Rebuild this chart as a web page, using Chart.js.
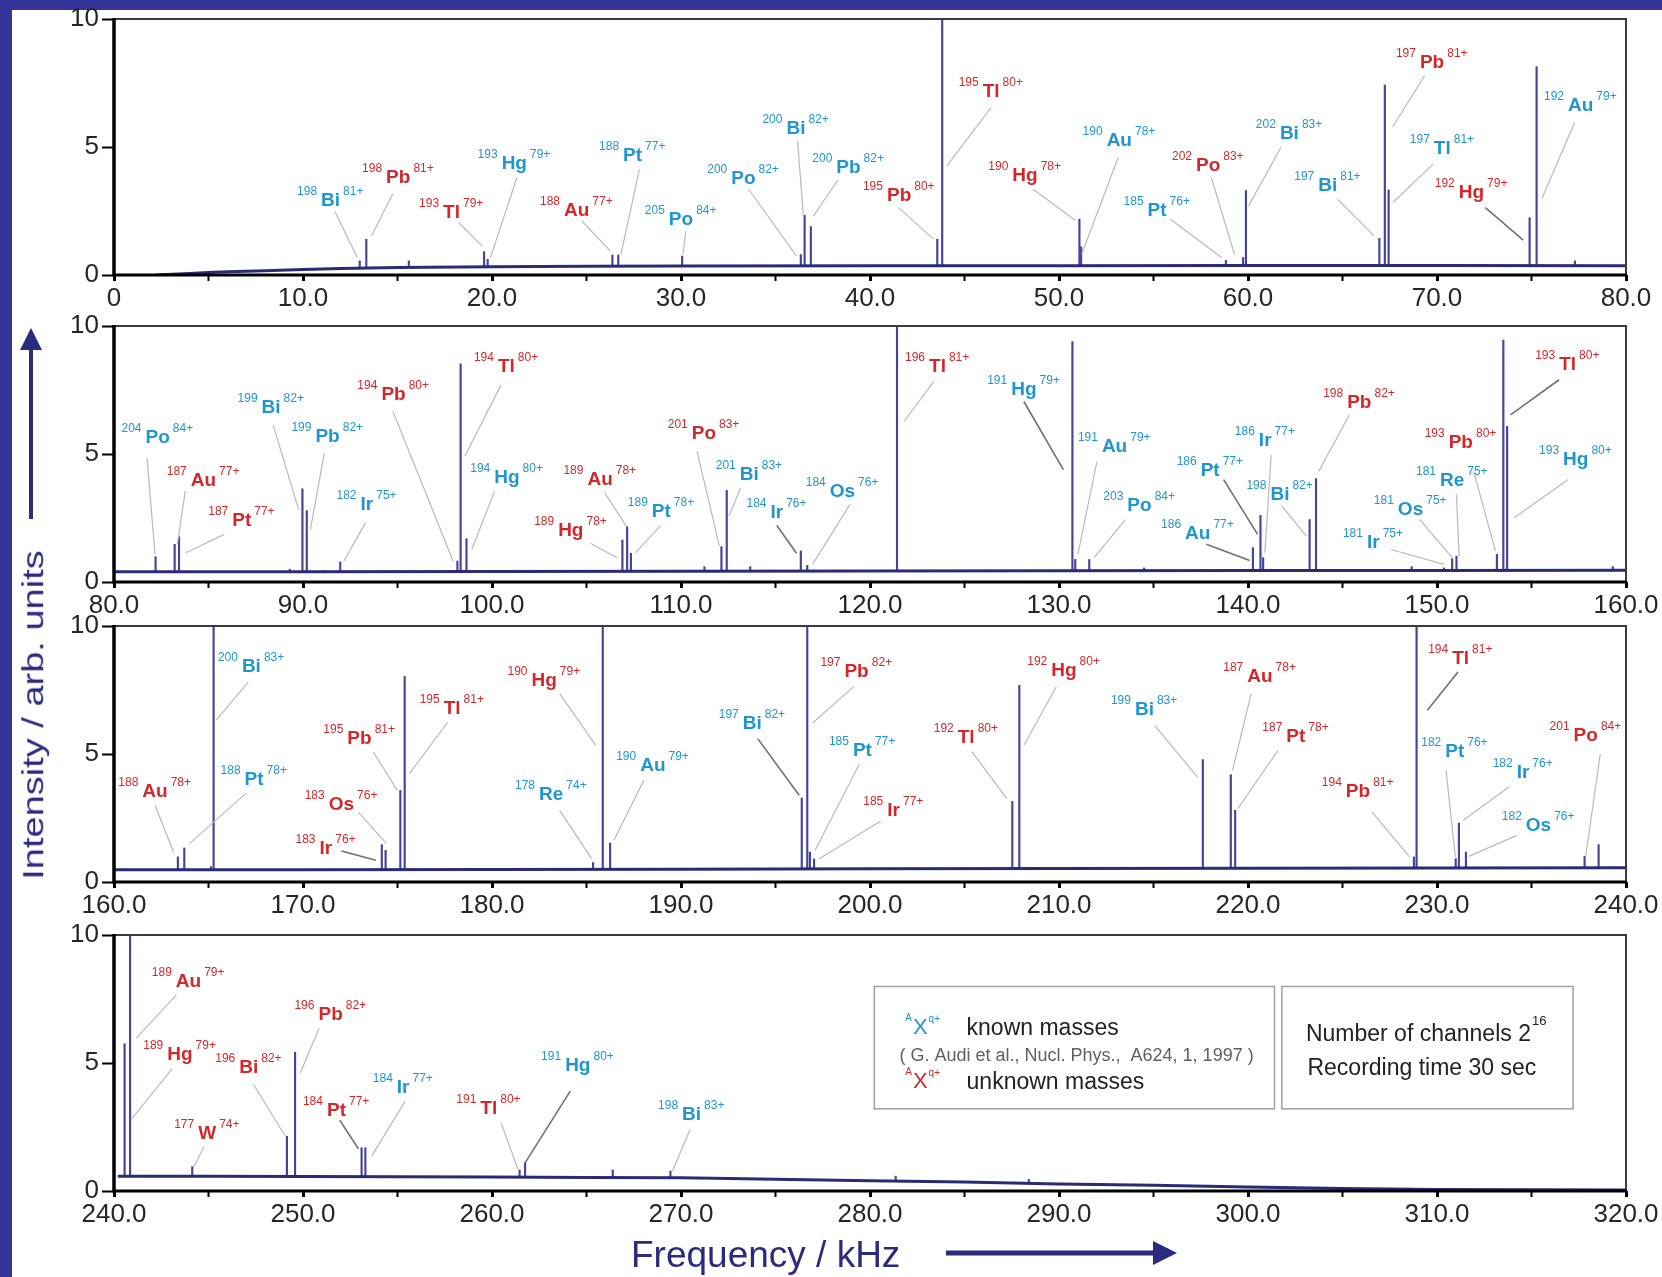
<!DOCTYPE html>
<html lang="en">
<head>
<meta charset="utf-8">
<title>Frequency spectrum</title>
<script src="https://cdn.jsdelivr.net/npm/chart.js@4.4.1/dist/chart.umd.min.js"></script>
<style>
  html, body { margin: 0; padding: 0; }
  body { width: 1662px; height: 1277px; position: relative; overflow: hidden; background: #34349a; font-family: "Liberation Sans", Arial, sans-serif; }
  #sheet { position: absolute; left: 12px; top: 10px; width: 1650px; height: 1267px; background: #fff; }
  .panel { position: absolute; left: 0; }
  #y-title { position: absolute; left: 33px; top: 715px; font-size: 38px; line-height: 38px; color: #2b2a7e; white-space: nowrap; transform: translate(-50%, -50%) rotate(-90deg) scaleY(0.8); }
  #x-title { position: absolute; left: 631px; top: 1236px; font-size: 37px; line-height: 37px; color: #2b2a7e; white-space: nowrap; }
  #arrows { position: absolute; left: 0; top: 0; }
</style>
</head>
<body>
<div id="sheet"></div>
<canvas id="panel-1" class="panel" width="1662" height="322"></canvas>
<canvas id="panel-2" class="panel" width="1662" height="322"></canvas>
<canvas id="panel-3" class="panel" width="1662" height="322"></canvas>
<canvas id="panel-4" class="panel" width="1662" height="322"></canvas>
<div id="y-title">Intensity / arb. units</div>
<div id="x-title">Frequency / kHz</div>
<svg id="arrows" width="1662" height="1277">
  <line x1="31" y1="519" x2="31" y2="346" stroke="#2b2a7e" stroke-width="4"/>
  <polygon points="31,328 20,350 42,350" fill="#2b2a7e"/>
  <line x1="946" y1="1253" x2="1156" y2="1253" stroke="#2b2a7e" stroke-width="5"/>
  <polygon points="1177,1253 1153,1241 1153,1265" fill="#2b2a7e"/>
</svg>
<script>
const FONT = '"Liberation Sans", Arial, Helvetica, sans-serif'

const COLORS = {
  known: '#1f96cf',
  unknown: '#d3272b',
  spike: '#45449c',
  trace: '#2b2a74',
  leader: '#bababa',
  leaderDark: '#707070',
  tick: '#262626',
  frame: '#3c3c3c',
  box: '#a0a0a0',
  note: '#222222',
  cite: '#606060'
}

// ---- panel 1: 0 - 80 kHz ----
const freq1 = [13.0, 13.35, 15.6, 19.58, 19.77, 26.37, 26.68, 30.06, 36.34, 36.54, 36.87, 43.56, 43.82, 51.08, 51.17, 58.83, 59.74, 59.89, 66.95, 67.24, 67.44, 74.9, 75.27, 77.3]
const height1 = [0.55, 1.4, 0.55, 0.91, 0.61, 0.78, 0.78, 0.74, 0.8, 2.33, 1.89, 1.4, 10, 2.18, 1.1, 0.57, 0.68, 3.3, 1.43, 7.42, 3.32, 2.24, 8.14, 0.55]
const traceFreq1 = [2.2, 4, 5, 6, 8, 10, 12, 15, 20, 25, 30, 40, 50, 60, 70, 80]
const traceLevel1 = [0, 0.06, 0.1, 0.13, 0.17, 0.21, 0.25, 0.29, 0.32, 0.34, 0.35, 0.36, 0.36, 0.37, 0.37, 0.36]
const ions1 = [
  ['198','Bi','81+',1], ['198','Pb','81+',0], ['193','Tl','79+',0], ['193','Hg','79+',1],
  ['188','Au','77+',0], ['188','Pt','77+',1], ['205','Po','84+',1], ['200','Po','82+',1],
  ['200','Bi','82+',1], ['200','Pb','82+',1], ['195','Pb','80+',0], ['195','Tl','80+',0],
  ['190','Hg','78+',0], ['190','Au','78+',1], ['185','Pt','76+',1], ['202','Po','83+',0],
  ['202','Bi','83+',1], ['197','Bi','81+',1], ['197','Pb','81+',0], ['197','Tl','81+',1],
  ['192','Hg','79+',0], ['192','Au','79+',1]
]
// label centre x, y, then leader start x, y and end x, y (axis units); trailing 1 = darker leader
const spots1 = [
  [11.46, 2.96, 11.69, 2.48, 12.87, 0.68], [15.04, 3.87, 14.76, 3.18, 13.63, 1.53],
  [17.86, 2.48, 18.23, 2.05, 19.49, 1.13], [21.18, 4.42, 21.32, 3.81, 19.92, 0.68],
  [24.48, 2.57, 24.76, 2.11, 26.25, 0.94], [27.44, 4.72, 27.8, 4.13, 26.82, 0.81],
  [30.0, 2.22, 30.25, 1.72, 30.11, 0.81], [33.3, 3.83, 33.58, 3.35, 36.11, 0.74],
  [36.08, 5.76, 36.17, 5.24, 36.48, 2.24], [38.86, 4.26, 38.3, 3.7, 37.0, 2.3],
  [41.54, 3.16, 41.51, 2.63, 43.36, 1.4], [46.41, 7.2, 46.41, 6.55, 44.07, 4.26],
  [48.2, 3.94, 48.63, 3.35, 50.85, 2.14], [53.19, 5.31, 53.13, 4.59, 51.2, 0.81],
  [55.19, 2.57, 55.9, 2.18, 58.6, 0.68], [57.89, 4.33, 58.06, 3.81, 59.28, 0.81],
  [62.19, 5.57, 61.74, 4.98, 60.03, 2.7], [64.22, 3.55, 64.73, 2.96, 66.67, 1.53],
  [69.74, 8.37, 69.34, 7.78, 67.66, 5.79], [70.28, 5.0, 69.8, 4.33, 67.66, 2.83],
  [71.82, 3.29, 72.56, 2.63, 74.56, 1.36, 1], [77.6, 6.68, 77.28, 5.96, 75.57, 3.02]
]

// ---- panel 2: 80 - 160 kHz ----
const freq2 = [82.2, 83.21, 83.44, 89.3, 89.97, 90.2, 91.1, 91.97, 98.17, 98.34, 98.65, 106.9, 107.15, 107.35, 111.24, 112.14, 112.42, 113.66, 116.34, 116.68, 121.43, 130.71, 130.86, 131.6, 134.5, 140.26, 140.66, 140.8, 143.26, 143.6, 148.66, 150.37, 150.8, 151.03, 153.17, 153.51, 153.71, 159.3]
const height2 = [0.99, 1.47, 1.77, 0.5, 3.64, 2.79, 0.45, 0.78, 0.82, 8.52, 1.69, 1.64, 2.16, 1.12, 0.6, 1.38, 3.58, 0.6, 1.21, 0.65, 10, 9.39, 0.88, 0.88, 0.55, 1.34, 2.6, 0.95, 2.44, 4.04, 0.6, 0.55, 0.91, 1.01, 1.08, 9.45, 6.08, 0.6]
const traceFreq2 = [80, 90, 100, 110, 120, 130, 140, 150, 160]
const traceLevel2 = [0.4, 0.4, 0.41, 0.42, 0.43, 0.44, 0.45, 0.45, 0.46]
const ions2 = [
  ['204','Po','84+',1], ['187','Au','77+',0], ['187','Pt','77+',0], ['199','Bi','82+',1],
  ['199','Pb','82+',1], ['182','Ir','75+',1], ['194','Pb','80+',0], ['194','Tl','80+',0],
  ['194','Hg','80+',1], ['189','Au','78+',0], ['189','Hg','78+',0], ['189','Pt','78+',1],
  ['201','Po','83+',0], ['201','Bi','83+',1], ['184','Ir','76+',1], ['184','Os','76+',1],
  ['196','Tl','81+',0], ['191','Hg','79+',1], ['191','Au','79+',1], ['203','Po','84+',1],
  ['186','Au','77+',1], ['186','Pt','77+',1], ['186','Ir','77+',1], ['198','Bi','82+',1],
  ['198','Pb','82+',0], ['193','Pb','80+',0], ['181','Re','75+',1], ['181','Os','75+',1],
  ['181','Ir','75+',1], ['193','Tl','80+',0], ['193','Hg','80+',1]
]
const spots2 = [
  [82.31, 5.69, 81.75, 4.84, 82.17, 1.08], [84.73, 4.03, 83.77, 3.55, 83.35, 1.47],
  [86.76, 2.44, 85.83, 1.86, 83.8, 1.14], [88.31, 6.86, 88.42, 6.14, 89.77, 2.83],
  [91.3, 5.75, 91.13, 5.04, 90.39, 2.05], [93.38, 3.09, 93.3, 2.31, 92.17, 0.82],
  [94.79, 7.38, 94.76, 6.66, 97.94, 0.82], [100.76, 8.48, 100.48, 7.7, 98.56, 4.91],
  [100.79, 4.13, 100.14, 3.55, 98.93, 1.27], [105.72, 4.06, 105.97, 3.48, 107.1, 2.18],
  [104.17, 2.08, 105.21, 1.51, 106.62, 0.95], [108.96, 2.81, 108.93, 2.21, 107.58, 1.14],
  [111.21, 5.84, 110.85, 5.1, 112.03, 1.4], [113.61, 4.26, 113.15, 3.68, 112.54, 2.57],
  [115.07, 2.77, 115.07, 2.21, 116.11, 1.12, 1], [118.54, 3.58, 118.94, 3.03, 116.96, 0.69],
  [123.57, 8.48, 123.37, 7.83, 121.8, 6.27], [128.14, 7.57, 128.14, 7.05, 130.23, 4.39, 1],
  [132.94, 5.36, 132.0, 4.68, 131.0, 1.08], [134.26, 3.03, 133.51, 2.44, 131.86, 0.95],
  [137.34, 1.95, 137.8, 1.47, 140.09, 0.84, 1], [138.0, 4.42, 138.71, 4.0, 140.51, 1.86, 1],
  [140.91, 5.56, 141.23, 4.97, 140.89, 1.14], [141.69, 3.48, 141.8, 2.96, 143.09, 1.79],
  [145.89, 7.08, 145.37, 6.53, 143.74, 4.32], [151.26, 5.49, 151.94, 4.32, 153.09, 1.21],
  [150.8, 4.03, 151.03, 3.42, 151.17, 1.01], [148.6, 2.9, 149.09, 2.44, 150.8, 0.95],
  [146.63, 1.6, 147.57, 1.27, 150.37, 0.69], [156.91, 8.55, 156.46, 7.9, 153.89, 6.53, 1],
  [157.34, 4.84, 156.94, 4.0, 154.09, 2.51]
]

// ---- panel 3: 160 - 240 kHz ----
const freq3 = [163.38, 163.72, 165.13, 165.27, 174.17, 174.37, 175.15, 175.38, 185.35, 185.86, 186.25, 196.39, 196.68, 196.82, 197.04, 207.53, 207.9, 208.8, 217.61, 219.09, 219.32, 221.0, 228.78, 228.92, 230.99, 231.16, 231.53, 237.81, 238.55]
const height3 = [0.98, 1.33, 0.6, 10, 1.46, 1.24, 3.58, 8.03, 0.76, 10, 1.52, 3.28, 10, 1.17, 0.9, 3.15, 7.68, 0.55, 4.78, 4.19, 2.8, 0.55, 0.98, 10, 0.91, 2.3, 1.17, 1.0, 1.46]
const traceFreq3 = [160, 170, 180, 190, 200, 210, 220, 230, 240]
const traceLevel3 = [0.48, 0.48, 0.49, 0.5, 0.52, 0.53, 0.54, 0.55, 0.56]
const ions3 = [
  ['188','Au','78+',0], ['188','Pt','78+',1], ['200','Bi','83+',1], ['183','Os','76+',0],
  ['183','Ir','76+',0], ['195','Pb','81+',0], ['195','Tl','81+',0], ['190','Hg','79+',0],
  ['178','Re','74+',1], ['190','Au','79+',1], ['197','Bi','82+',1], ['197','Pb','82+',0],
  ['185','Pt','77+',1], ['185','Ir','77+',0], ['192','Tl','80+',0], ['192','Hg','80+',0],
  ['199','Bi','83+',1], ['187','Au','78+',0], ['187','Pt','78+',0], ['194','Pb','81+',0],
  ['194','Tl','81+',0], ['182','Pt','76+',1], ['182','Ir','76+',1], ['182','Os','76+',1],
  ['201','Po','84+',0]
]
const spots3 = [
  [162.17, 3.58, 162.17, 3.0, 163.15, 1.17], [167.41, 4.04, 167.01, 3.48, 164.0, 1.5],
  [167.27, 8.46, 167.1, 7.81, 165.41, 6.32], [172.03, 3.09, 172.93, 2.73, 174.42, 1.5],
  [171.21, 1.37, 172.03, 1.21, 173.86, 0.85, 1], [172.99, 5.66, 173.72, 5.08, 174.99, 3.58],
  [177.89, 6.84, 177.66, 6.25, 175.63, 4.23], [182.76, 7.94, 183.58, 7.36, 185.49, 5.34],
  [183.13, 3.45, 183.58, 2.8, 185.27, 0.91], [188.51, 4.6, 188.03, 3.97, 186.45, 1.63],
  [193.77, 6.25, 194.06, 5.6, 196.25, 3.39, 1], [199.29, 8.29, 199.15, 7.64, 196.96, 6.21],
  [199.6, 5.17, 199.43, 4.6, 197.1, 1.24], [201.25, 2.83, 200.57, 2.38, 197.3, 0.9],
  [205.09, 5.69, 205.4, 5.08, 207.24, 3.26], [210.26, 8.33, 209.86, 7.64, 208.15, 5.34],
  [214.52, 6.77, 215.06, 6.12, 217.33, 4.1], [220.63, 8.07, 220.17, 7.36, 219.18, 4.36],
  [222.53, 5.73, 221.59, 5.14, 219.46, 2.86], [225.82, 3.58, 226.56, 2.73, 228.55, 0.98],
  [231.25, 8.79, 231.11, 8.2, 229.49, 6.71, 1], [230.94, 5.14, 230.48, 4.36, 230.97, 0.98],
  [234.55, 4.34, 233.81, 3.71, 231.39, 2.41], [235.37, 2.25, 234.23, 1.82, 231.68, 1.0],
  [237.87, 5.79, 238.64, 5.01, 237.87, 1.0]
]

// ---- panel 4: 240 - 320 kHz ----
const freq4 = [240.56, 240.85, 244.14, 249.15, 249.58, 253.1, 253.3, 261.46, 261.75, 266.39, 269.44, 281.36, 288.4]
const height4 = [5.75, 10, 0.95, 2.14, 5.42, 1.69, 1.69, 0.82, 1.1, 0.82, 0.78, 0.58, 0.45]
const traceFreq4 = [240.2, 245, 250, 255, 260, 265, 270, 275, 280, 285, 290, 295, 300, 305, 310, 315, 320]
const traceLevel4 = [0.58, 0.58, 0.57, 0.56, 0.55, 0.53, 0.52, 0.46, 0.4, 0.35, 0.27, 0.22, 0.16, 0.1, 0.06, 0.05, 0.04]
const ions4 = [
  ['189','Au','79+',0], ['189','Hg','79+',0], ['177','W','74+',0], ['196','Bi','82+',0],
  ['196','Pb','82+',0], ['184','Pt','77+',0], ['184','Ir','77+',1], ['191','Tl','80+',0],
  ['191','Hg','80+',1], ['198','Bi','83+',1]
]
const spots4 = [
  [243.94, 8.25, 243.3, 7.66, 241.18, 5.97], [243.49, 5.39, 243.07, 4.77, 240.9, 2.79],
  [244.93, 2.3, 244.76, 1.73, 244.2, 0.91], [247.13, 4.87, 247.38, 4.16, 249.07, 2.14],
  [251.46, 6.95, 250.85, 6.36, 249.86, 4.61], [251.77, 3.21, 251.94, 2.77, 252.93, 1.65, 1],
  [255.3, 4.09, 255.41, 3.51, 253.63, 1.36], [259.83, 3.29, 260.48, 2.66, 261.38, 0.84],
  [264.54, 4.94, 264.14, 3.9, 261.75, 1.1, 1], [270.56, 3.05, 270.48, 2.4, 269.55, 0.78]
]

const PAD_TOP = 20
const AXIS_X = 46
const AXIS_Y = 45
const PLOT_LEFT = 114
const PLOT_RIGHT = 1626
const PLOT_H = 256

const panels = [
  { id: 'panel-1', top: 19, min: 0, max: 80, freq: freq1, height: height1, traceFreq: traceFreq1, traceLevel: traceLevel1, ions: ions1, spots: spots1 },
  { id: 'panel-2', top: 326, min: 80, max: 160, freq: freq2, height: height2, traceFreq: traceFreq2, traceLevel: traceLevel2, ions: ions2, spots: spots2 },
  { id: 'panel-3', top: 626, min: 160, max: 240, freq: freq3, height: height3, traceFreq: traceFreq3, traceLevel: traceLevel3, ions: ions3, spots: spots3 },
  { id: 'panel-4', top: 935, min: 240, max: 320, freq: freq4, height: height4, traceFreq: traceFreq4, traceLevel: traceLevel4, ions: ions4, spots: spots4, notes: true }
]

// mass number / element / charge state, element centred on (px, py)
const drawIon = (ctx, ion, px, py) => {
  const [mass, el, charge, known] = ion
  ctx.fillStyle = known ? COLORS.known : COLORS.unknown
  ctx.textBaseline = 'alphabetic'
  ctx.font = `bold 19px ${FONT}`
  const w = ctx.measureText(el).width
  const base = py + 6.8
  ctx.textAlign = 'center'
  ctx.fillText(el, px, base)
  ctx.font = `12px ${FONT}`
  const supBase = base - 13.6 + 2.6
  ctx.textAlign = 'right'
  ctx.fillText(mass, px - w / 2 - 4, supBase)
  ctx.textAlign = 'left'
  ctx.fillText(charge, px + w / 2 + 3, supBase)
}

// "AX q+" symbol with its letter X starting at lx
const drawSymbol = (ctx, lx, py, color) => {
  ctx.fillStyle = color
  ctx.font = `22px ${FONT}`
  ctx.textAlign = 'left'
  const w = ctx.measureText('X').width
  const base = py + 7.9
  ctx.fillText('X', lx, base)
  ctx.font = `10px ${FONT}`
  ctx.textAlign = 'right'
  ctx.fillText('A', lx - 1, base - 13)
  ctx.textAlign = 'left'
  ctx.fillText('q+', lx + w + 1, base - 12)
}

const drawNotes = (ctx, x, y) => {
  const top = y.getPixelForValue(7.99)
  const bottom = y.getPixelForValue(3.21)
  ctx.strokeStyle = COLORS.box
  ctx.lineWidth = 1.5
  const box = (x0, x1) => {
    const l = x.getPixelForValue(x0)
    ctx.strokeRect(l, top, x.getPixelForValue(x1) - l, bottom - top)
  }
  box(280.23, 301.4)
  box(301.79, 317.2)

  ctx.textBaseline = 'alphabetic'
  const textX = x.getPixelForValue(285.11)
  let py = y.getPixelForValue(6.43)
  drawSymbol(ctx, x.getPixelForValue(282.27), py, COLORS.known)
  ctx.fillStyle = COLORS.note
  ctx.font = `23px ${FONT}`
  ctx.textAlign = 'left'
  ctx.fillText('known masses', textX, py + 8.3)

  py = y.getPixelForValue(5.32)
  ctx.fillStyle = COLORS.cite
  ctx.font = `18px ${FONT}`
  ctx.fillText('( G. Audi et al., Nucl. Phys.,  A624, 1, 1997 )', x.getPixelForValue(281.56), py + 6.5)

  py = y.getPixelForValue(4.32)
  drawSymbol(ctx, x.getPixelForValue(282.27), py, COLORS.unknown)
  ctx.fillStyle = COLORS.note
  ctx.font = `23px ${FONT}`
  ctx.textAlign = 'left'
  ctx.fillText('unknown masses', textX, py + 8.3)

  // recording settings
  const cx = x.getPixelForValue(309.4)
  py = y.getPixelForValue(6.19)
  ctx.font = `23px ${FONT}`
  const line1 = 'Number of channels 2'
  const w1 = ctx.measureText(line1).width
  ctx.font = `13px ${FONT}`
  const w2 = ctx.measureText('16').width
  const start = cx - (w1 + w2) / 2
  ctx.font = `23px ${FONT}`
  ctx.fillText(line1, start, py + 8.3)
  ctx.font = `13px ${FONT}`
  ctx.fillText('16', start + w1 + 1, py - 8)
  ctx.font = `23px ${FONT}`
  ctx.textAlign = 'center'
  ctx.fillText('Recording time 30 sec', x.getPixelForValue(309.2), y.getPixelForValue(4.87) + 8.3)
}

const ionLabels = (ions, spots, notes) => ({
  id: 'ionLabels',
  afterDatasetsDraw(chart) {
    const { ctx, chartArea: a, scales: { x, y } } = chart
    ctx.save()

    // thin frame on top/right, heavy axis lines left/bottom
    ctx.lineCap = 'butt'
    ctx.strokeStyle = COLORS.frame
    ctx.lineWidth = 2
    ctx.beginPath()
    ctx.moveTo(a.left, a.top)
    ctx.lineTo(a.right, a.top)
    ctx.lineTo(a.right, a.bottom)
    ctx.stroke()
    ctx.strokeStyle = '#000'
    ctx.lineWidth = 3.5
    ctx.beginPath()
    ctx.moveTo(a.left, a.top - 1)
    ctx.lineTo(a.left, a.bottom + 1.5)
    ctx.stroke()
    ctx.lineWidth = 3
    ctx.beginPath()
    ctx.moveTo(a.left, a.bottom)
    ctx.lineTo(a.right + 1, a.bottom)
    ctx.stroke()

    ions.forEach((ion, i) => {
      const [cx, cy, x1, y1, x2, y2, dark] = spots[i]
      ctx.strokeStyle = dark ? COLORS.leaderDark : COLORS.leader
      ctx.lineWidth = dark ? 1.6 : 1.2
      ctx.beginPath()
      ctx.moveTo(x.getPixelForValue(x1), y.getPixelForValue(y1))
      ctx.lineTo(x.getPixelForValue(x2), y.getPixelForValue(y2))
      ctx.stroke()
      drawIon(ctx, ion, x.getPixelForValue(cx), y.getPixelForValue(cy))
    })

    if (notes) drawNotes(ctx, x, y)
    ctx.restore()
  }
})

const tickLabel = v => (v % 10 ? '' : v === 0 ? '0' : v.toFixed(1))

panels.forEach(p => {
  const canvas = document.getElementById(p.id)
  canvas.style.top = (p.top - PAD_TOP) + 'px'
  canvas.height = PAD_TOP + PLOT_H + AXIS_X

  new Chart(canvas, {
    type: 'bar',
    data: {
      datasets: [
        {
          type: 'line',
          data: p.traceFreq.map((f, i) => ({ x: f, y: p.traceLevel[i] })),
          borderColor: COLORS.trace,
          borderWidth: 3,
          pointRadius: 0,
          tension: 0,
          fill: 'origin',
          backgroundColor: '#ffffff',
          order: 0
        },
        {
          type: 'bar',
          data: p.freq.map((f, i) => ({ x: f, y: p.height[i] })),
          backgroundColor: COLORS.spike,
          barThickness: 1.5,
          order: 1
        }
      ]
    },
    options: {
      responsive: false,
      animation: false,
      devicePixelRatio: 1,
      events: [],
      layout: {
        autoPadding: false,
        padding: { top: PAD_TOP, left: PLOT_LEFT - AXIS_Y, right: 1662 - PLOT_RIGHT, bottom: 0 }
      },
      plugins: {
        legend: { display: false },
        tooltip: { enabled: false }
      },
      scales: {
        x: {
          type: 'linear',
          min: p.min,
          max: p.max,
          offset: false,
          ticks: {
            stepSize: 5,
            autoSkip: false,
            maxRotation: 0,
            padding: 2,
            color: COLORS.tick,
            font: { family: FONT, size: 26 },
            callback: tickLabel
          },
          grid: {
            display: true,
            offset: false,
            drawOnChartArea: false,
            drawTicks: true,
            tickLength: 6,
            tickColor: '#000',
            tickWidth: c => (c.tick && c.tick.value % 10 ? 2 : 3)
          },
          border: { display: false },
          afterFit: s => { s.height = AXIS_X; s.paddingLeft = 0; s.paddingRight = 0 }
        },
        y: {
          min: 0,
          max: 10,
          ticks: {
            stepSize: 5,
            padding: 3,
            color: COLORS.tick,
            font: { family: FONT, size: 26 }
          },
          grid: {
            display: true,
            drawOnChartArea: false,
            drawTicks: true,
            tickLength: 12,
            tickColor: '#000',
            tickWidth: 2
          },
          border: { display: false },
          afterFit: s => { s.width = AXIS_Y; s.paddingTop = 0; s.paddingBottom = 0 }
        }
      }
    },
    plugins: [ionLabels(p.ions, p.spots, p.notes)]
  })
})
</script>
</body>
</html>
